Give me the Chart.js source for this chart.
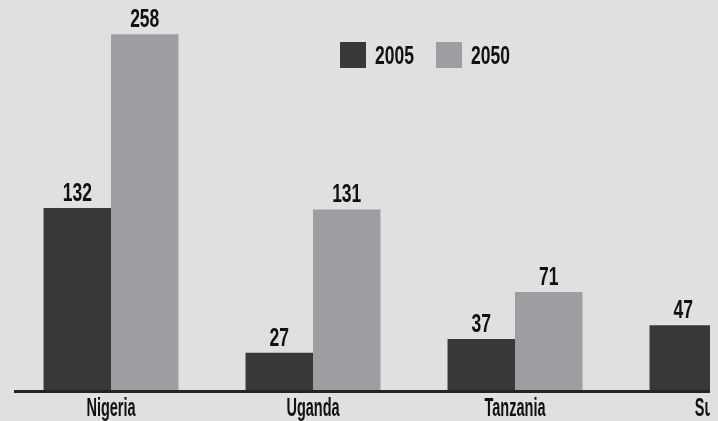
<!DOCTYPE html>
<html><head><meta charset="utf-8">
<script src="https://cdn.jsdelivr.net/npm/chart.js@4.4.1/dist/chart.umd.min.js"></script>
<style>
html,body{margin:0;padding:0;background:#e0e0e0;overflow:hidden;}
#clip{position:absolute;left:0;top:0;width:710px;height:421px;overflow:hidden;background:#e0e0e0;}
#wrap{position:absolute;left:0;top:0;width:830px;height:421px;}
</style></head>
<body>
<div id="clip"><div id="wrap"><canvas id="c"></canvas></div></div>
<script>
const categories = ['Nigeria', 'Uganda', 'Tanzania', 'Sudan'];
const seriesLabels = ['2005', '2050'];
const values2005 = [132, 27, 37, 47];
const values2050 = [258, 131, 71, null];

const FONT = '"Liberation Sans", Arial, sans-serif';
const DARK = '#383838';
const LIGHT = '#9d9ea1';
const TEXT = '#111111';

function squeezedText(ctx, text, x, y, sx, sy) {
  ctx.save();
  ctx.translate(x, y);
  ctx.scale(sx, sy);
  ctx.fillText(text, 0, 0);
  ctx.restore();
}

const labelPlugin = {
  id: 'valueLabels',
  afterDatasetsDraw(chart) {
    const ctx = chart.ctx;
    const area = chart.chartArea;
    // axis baseline
    ctx.save();
    ctx.fillStyle = '#242424';
    ctx.fillRect(14, area.bottom, area.right - 14, 3);
    ctx.restore();

    ctx.save();
    ctx.fillStyle = TEXT;
    ctx.font = 'bold 25px ' + FONT;
    ctx.textBaseline = 'alphabetic';
    ctx.textAlign = 'center';
    // value labels
    chart.data.datasets.forEach((ds, i) => {
      const meta = chart.getDatasetMeta(i);
      meta.data.forEach((bar, j) => {
        const v = ds.data[j];
        if (v === null || v === undefined) return;
        squeezedText(ctx, String(v), bar.x, bar.y - 7, 0.7, 1.0);
      });
    });
    // category labels from the x scale
    const xs = chart.scales.x;
    xs.ticks.forEach((t, i) => {
      const label = xs.getLabelForValue(t.value);
      squeezedText(ctx, label, xs.getPixelForTick(i), 416, 0.58, 1.0);
    });
    // legend
    const legX = [340, 436];
    ctx.textAlign = 'left';
    chart.data.datasets.forEach((ds, i) => {
      ctx.fillStyle = ds.backgroundColor;
      ctx.fillRect(legX[i], 42, 26, 26);
      ctx.fillStyle = TEXT;
      squeezedText(ctx, ds.label, legX[i] + 35, 64, 0.7, 1.0);
    });
    ctx.restore();
  }
};

new Chart(document.getElementById('c'), {
  type: 'bar',
  data: {
    labels: categories,
    datasets: [
      { label: seriesLabels[0], data: values2005, backgroundColor: DARK },
      { label: seriesLabels[1], data: values2050, backgroundColor: LIGHT }
    ]
  },
  options: {
    responsive: true,
    maintainAspectRatio: false,
    animation: false,
    events: [],
    layout: { padding: { left: 10, right: 12, top: 4, bottom: 0 } },
    datasets: { bar: { categoryPercentage: 0.668, barPercentage: 1.0 } },
    plugins: { legend: { display: false }, tooltip: { enabled: false } },
    scales: {
      x: {
        grid: { display: false, drawTicks: false },
        border: { display: false },
        ticks: { display: false, autoSkip: false },
        afterFit(scale) { scale.height = 31; }
      },
      y: { display: false, min: 0, max: 280 }
    }
  },
  plugins: [labelPlugin]
});
</script>
</body></html>
